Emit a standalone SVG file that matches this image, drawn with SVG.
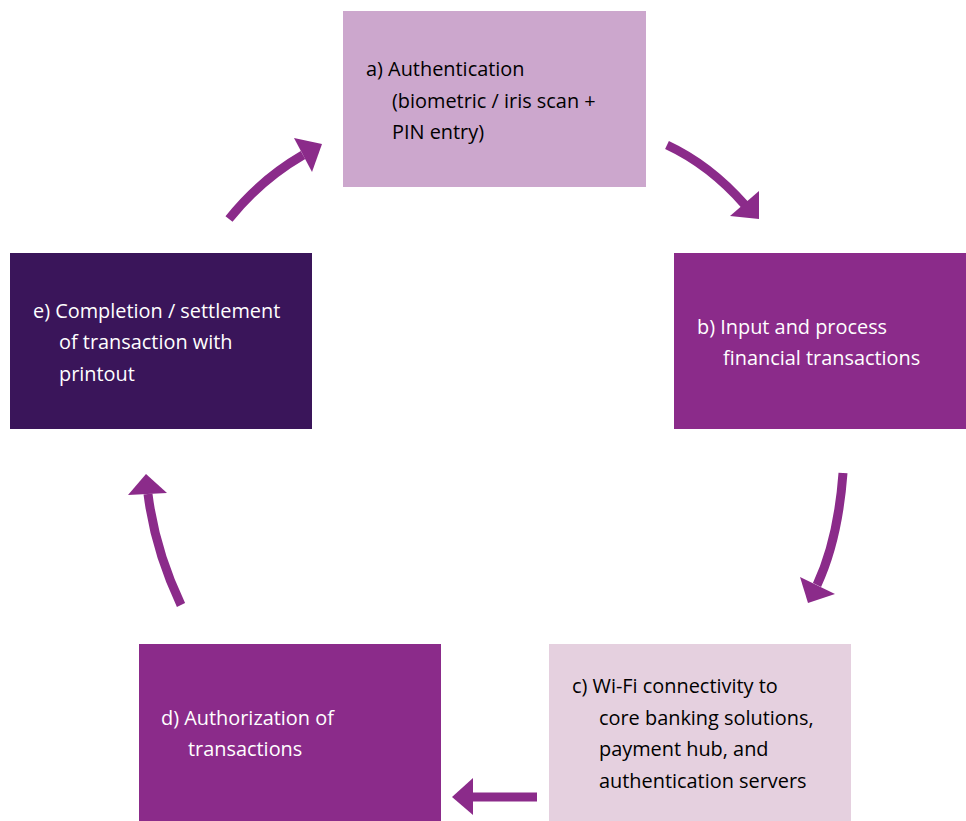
<svg xmlns="http://www.w3.org/2000/svg" width="966" height="821" viewBox="0 0 966 821">
<style>
text{font-family:"Open Sans","Noto Sans","Liberation Sans",sans-serif;font-size:19.9px}
.dk{fill:#000}
.lt{fill:#fff}
.shaft{fill:none;stroke:#8b2b8a;stroke-width:9}
.head{fill:#8b2b8a}
</style>
<rect width="966" height="821" fill="#fff"/>
<g id="node-a">
<rect x="343" y="11" width="303" height="176" fill="#cca7cd"/>
<text class="dk" x="366" y="76">a) Authentication</text>
<text class="dk" x="392" y="108">(biometric / iris scan +</text>
<text class="dk" x="392" y="139">PIN entry)</text>
</g>
<g id="node-b">
<rect x="674" y="253" width="292" height="176" fill="#8b2b8a"/>
<text class="lt" x="697" y="334">b) Input and process</text>
<text class="lt" x="723" y="365">financial transactions</text>
</g>
<g id="node-c">
<rect x="549" y="644" width="302" height="177" fill="#e5d0df"/>
<text class="dk" x="572" y="693">c) Wi-Fi connectivity to</text>
<text class="dk" x="599" y="725">core banking solutions,</text>
<text class="dk" x="599" y="756">payment hub, and</text>
<text class="dk" x="599" y="788">authentication servers</text>
</g>
<g id="node-d">
<rect x="139" y="644" width="302" height="177" fill="#8b2b8a"/>
<text class="lt" x="161" y="725">d) Authorization of</text>
<text class="lt" x="188" y="756">transactions</text>
</g>
<g id="node-e">
<rect x="10" y="253" width="302" height="176" fill="#3a155a"/>
<text class="lt" x="33" y="318">e) Completion / settlement</text>
<text class="lt" x="59" y="349">of transaction with</text>
<text class="lt" x="59" y="381">printout</text>
</g>
<g id="connectors">
<path class="shaft" d="M667,145 Q710,165 745,205"/>
<polygon class="head" points="759,191 730,216 759,219"/>
<path class="shaft" d="M843,473 Q838,540 817,585"/>
<polygon class="head" points="800,577 808,603 835,594"/>
<path class="shaft" d="M537,797 L472,797"/>
<polygon class="head" points="473,778 452,797 473,815"/>
<path class="shaft" d="M181,605 Q155,550 148,494"/>
<polygon class="head" points="128,495 146,474 167,493"/>
<path class="shaft" d="M229,219 Q260,180 303,155"/>
<polygon class="head" points="294,138 322,144 312,172"/>
</g>
</svg>
